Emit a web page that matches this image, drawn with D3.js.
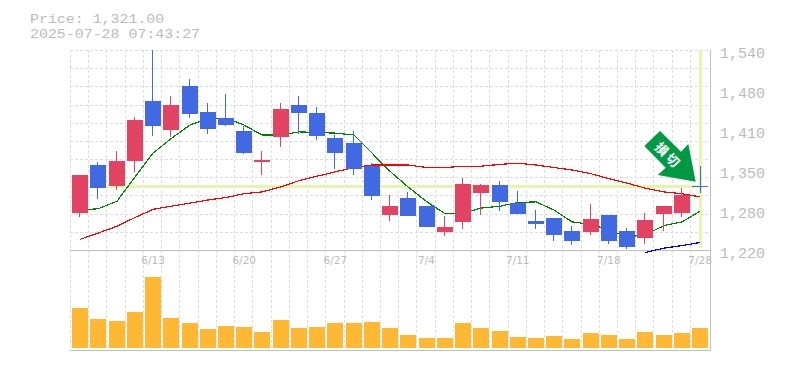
<!DOCTYPE html>
<html>
<head>
<meta charset="utf-8">
<style>
  html, body { margin: 0; padding: 0; background: #fff; }
  text { font-family: "Liberation Mono", monospace; font-size: 15px; fill: #bbb; }
</style>
<script src="https://cdn.jsdelivr.net/npm/d3@7"></script>
</head>
<body>
<div id="chart"></div>
<script>
//data
//only the dates in dateTicks are printed on the chart, the ones between are inferred trading days
var dates = ['6/9','6/10','6/11','6/12','6/13','6/16','6/17','6/18','6/19','6/20','6/23','6/24','6/25','6/26','6/27','6/30','7/1','7/2','7/3','7/4','7/7','7/8','7/9','7/10','7/11','7/14','7/15','7/16','7/17','7/18','7/22','7/23','7/24','7/25','7/28'];
var opens  = [1279,1356,1322,1362,1458,1412,1482,1441,1431,1410,1361,1401,1452,1439,1399,1391,1354,1276,1303,1290,1249,1265,1311,1324,1295,1266,1271,1250,1249,1276,1250,1239,1278,1279,1321];
var closes = [1340,1319,1362,1428,1418,1452,1438,1414,1420,1375,1364,1446,1439,1402,1375,1350,1306,1290,1274,1257,1257,1326,1324,1297,1278,1262,1244,1234,1270,1234,1225,1268,1290,1308,1321];
var highs  = [1340,1361,1378,1433,1540,1466,1494,1455,1470,1418,1378,1455,1466,1449,1404,1410,1359,1308,1313,1290,1274,1335,1326,1330,1314,1284,1271,1258,1294,1276,1255,1279,1290,1319,1354];
var lows   = [1273,1302,1316,1345,1402,1401,1431,1406,1418,1374,1340,1385,1406,1396,1350,1340,1300,1266,1274,1257,1242,1254,1276,1282,1278,1254,1234,1228,1244,1230,1222,1230,1250,1273,1311];
//volume has no scale on the chart, so these are relative units
var volumes = [40,29,27,36,71,30,25,19,22,21,16,28,20,21,25,25,26,20,13,10,10,25,20,17,11,10,12,9,15,13,9,16,13,15,20];
var maShort = [1284,1286,1298,1337,1375,1398,1420,1430,1431,1420,1404,1404,1409,1408,1407,1404,1375,1346,1321,1297,1278,1279,1287,1290,1296,1297,1284,1265,1261,1252,1241,1244,1259,1265,1282];
var maMid = [1237,1247,1258,1272,1285,1290,1295,1300,1304,1310,1313,1321,1331,1338,1345,1352,1356,1356,1356,1352,1352,1354,1354,1357,1359,1356,1352,1348,1342,1334,1327,1319,1313,1310,1305];
var maLong = [null,null,null,null,null,null,null,null,null,null,null,null,null,null,null,null,null,null,null,null,null,null,null,null,null,null,null,null,null,null,null,1216,1223,1227,1232];
var priceTicks = [1540,1476,1412,1348,1284,1220];
var priceTickLabels = ['1,540','1,480','1,410','1,350','1,280','1,220'];
var dateTicks = ['6/13','6/20','6/27','7/4','7/11','7/18','7/28'];
var currentPrice = 1321;
var titleLines = ['Price: 1,321.00', '2025-07-28 07:43:27'];
//too blurred in the reference to read for sure, best guess
var arrowLabel = ['損', '切'];

var w = 785;
var h = 370;

var svg = d3.select('#chart').append('svg')
  .attr('width', w)
  .attr('height', h)
  .style('display', 'block');

var xScale = d3.scaleBand()
  .domain(dates)
  .range([71, 709.2])
  .paddingInner(0);

var yScale = d3.scaleLinear()
  .domain([1220, 1540])
  .range([250, 50]);

var volScale = d3.scaleLinear()
  .domain([0, 80])
  .range([348, 268]);

function cx(d) {
  return Math.round(xScale(d) + xScale.bandwidth() / 2);
}

//grid
var grid = svg.append('g')
  .attr('stroke', '#ddd')
  .attr('stroke-dasharray', '3,2')
  .attr('shape-rendering', 'crispEdges');

dates.forEach(function(d) {
  grid.append('line')
    .attr('x1', xScale(d) - 0.5)
    .attr('x2', xScale(d) - 0.5)
    .attr('y1', 50)
    .attr('y2', 349);
});

d3.range(12).forEach(function(i) {
  var gy = Math.round(50 + i * 200 / 11) + 0.5;
  grid.append('line')
    .attr('x1', 70)
    .attr('x2', 710)
    .attr('y1', gy)
    .attr('y2', gy);
});

//frame
svg.append('path')
  .attr('d', 'M70,250.5H710M710.5,50V351M70,350H711')
  .attr('fill', 'none')
  .attr('stroke', '#c0c0c0')
  .attr('shape-rendering', 'crispEdges');
svg.append('line')
  .attr('x1', 70).attr('x2', 711)
  .attr('y1', 350.5).attr('y2', 350.5)
  .attr('stroke', '#c0c0c0')
  .attr('shape-rendering', 'crispEdges');

//current price guides
var last = dates[dates.length - 1];
svg.append('line')
  .attr('x1', 70)
  .attr('x2', cx(last))
  .attr('y1', Math.round(yScale(currentPrice)) - 0.5)
  .attr('y2', Math.round(yScale(currentPrice)) - 0.5)
  .attr('stroke', '#e4f5ae')
  .attr('stroke-width', 3)
  .attr('shape-rendering', 'crispEdges');
svg.append('line')
  .attr('x1', cx(last) + 0.5)
  .attr('x2', cx(last) + 0.5)
  .attr('y1', 50)
  .attr('y2', 248)
  .attr('stroke', '#e4f5ae')
  .attr('stroke-width', 3)
  .attr('shape-rendering', 'crispEdges');

//moving averages
var line = d3.line()
  .defined(function(d) { return d !== null; })
  .x(function(d, i) { return cx(dates[i]); })
  .y(function(d) { return yScale(d); });

[[maShort, '#008000'], [maMid, '#ff0000'], [maLong, '#0000ff']].forEach(function(s) {
  svg.append('path')
    .attr('d', line(s[0]))
    .attr('fill', 'none')
    .attr('stroke', s[1])
    .attr('stroke-width', 1.2)
    .attr('shape-rendering', 'crispEdges');
});

//candles
var candleColor = function(i) {
  return closes[i] > opens[i] ? '#e34363' : '#4169e1';
};

var candles = svg.append('g')
  .attr('shape-rendering', 'crispEdges');

dates.forEach(function(d, i) {
  if (i === dates.length - 1) return;
  candles.append('rect')
    .attr('x', cx(d) - 1)
    .attr('width', 1)
    .attr('y', yScale(highs[i]))
    .attr('height', yScale(lows[i]) - yScale(highs[i]))
    .attr('fill', candleColor(i));
  var top = yScale(Math.max(opens[i], closes[i]));
  var bottom = yScale(Math.min(opens[i], closes[i]));
  candles.append('rect')
    .attr('x', cx(d) - 8)
    .attr('width', 16)
    .attr('y', top)
    .attr('height', Math.max(bottom - top, 2))
    .attr('fill', candleColor(i));
});

//volume
svg.append('g')
  .attr('shape-rendering', 'crispEdges')
  .selectAll('rect')
  .data(volumes)
  .enter()
  .append('rect')
  .attr('x', function(d, i) { return cx(dates[i]) - 8; })
  .attr('y', function(d) { return volScale(d); })
  .attr('width', 16)
  .attr('height', function(d) { return volScale(0) - volScale(d); })
  .attr('fill', '#ffb833');

//arrow, anchored just off the current price
var tipX = cx(last) - 4.3;
var tipY = yScale(currentPrice) - 5.2;
var arrow = svg.append('g')
  .attr('transform', 'translate(' + tipX + ',' + tipY + ')');
arrow.append('path')
  .attr('d', 'M0,0L-7.4,-37.7L-14.7,-30L-35.7,-50.7L-51.4,-35.7L-30,-14L-38,-6.7Z')
  .attr('fill', '#009944');
arrowLabel.forEach(function(c, i) {
  arrow.append('text')
    .attr('transform', 'translate(' + (-34 + i * 11) + ',' + (-32.5 + i * 11) + ') rotate(45)')
    .attr('text-anchor', 'middle')
    .attr('dy', '0.36em')
    .style('font-family', '"Noto Sans CJK JP"')
    .style('font-weight', 'bold')
    .style('font-size', '13px')
    .style('fill', '#fff')
    .text(c);
});

//last price cross, over the arrow tip
var crossColor = '#4169e1';
svg.append('line')
  .attr('x1', cx(last) + 0.5).attr('x2', cx(last) + 0.5)
  .attr('y1', yScale(highs[34])).attr('y2', yScale(lows[34]))
  .attr('stroke', crossColor)
  .attr('shape-rendering', 'crispEdges');
svg.append('line')
  .attr('x1', cx(last) - 8).attr('x2', cx(last) + 8)
  .attr('y1', Math.round(yScale(closes[34])) - 0.5).attr('y2', Math.round(yScale(closes[34])) - 0.5)
  .attr('stroke', crossColor)
  .attr('shape-rendering', 'crispEdges');

//axes
var yAxis = d3.axisRight(yScale)
  .tickValues(priceTicks)
  .tickSize(0)
  .tickPadding(0)
  .tickFormat(function(d, i) { return priceTickLabels[i]; });

var yAxisG = svg.append('g')
  .attr('transform', 'translate(720,3)')
  .call(yAxis);
yAxisG.select('.domain').remove();
yAxisG.selectAll('.tick text')
  .style('font-family', '"Liberation Mono", monospace')
  .style('font-size', '15px')
  .style('fill', '#bbb');

var xAxis = d3.axisBottom(xScale)
  .tickValues(dateTicks)
  .tickSize(0)
  .tickPadding(0);

var xAxisG = svg.append('g')
  .attr('transform', 'translate(0,257)')
  .call(xAxis);
xAxisG.select('.domain').remove();
xAxisG.selectAll('.tick text')
  .style('font-family', '"DejaVu Sans", sans-serif')
  .style('font-size', '10.5px')
  .style('fill', '#bbb');

//title, squat and wide like the original bitmap font
svg.selectAll('text.title')
  .data(titleLines)
  .enter()
  .append('text')
  .attr('class', 'title')
  .attr('x', 30)
  .attr('y', function(d, i) { return 23 + i * 15; })
  .attr('textLength', function(d) { return d.length * 8.95; })
  .attr('lengthAdjust', 'spacingAndGlyphs')
  .style('font-size', '13px')
  .text(function(d) { return d; });
</script>
</body>
</html>
